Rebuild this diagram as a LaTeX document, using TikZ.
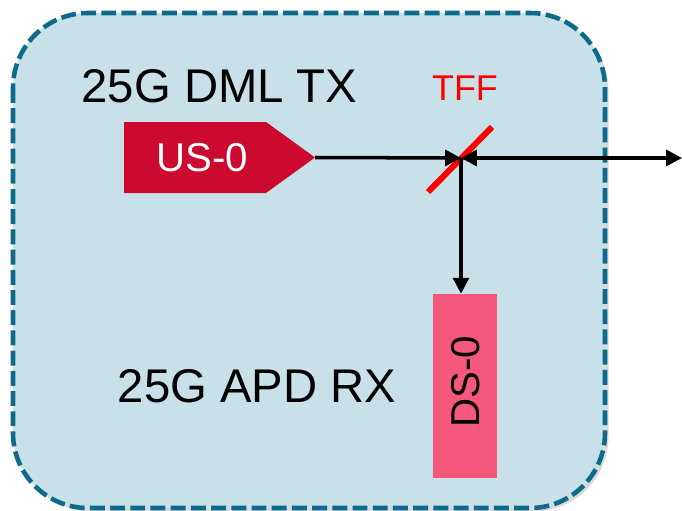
\documentclass[tikz,border=0pt]{standalone}
\usepackage{fontspec}
\setmainfont{Liberation Sans}
\usetikzlibrary{arrows.meta,positioning,calc,shadows}
\definecolor{boxblue}{RGB}{200,224,232}
\definecolor{dashblue}{RGB}{14,106,139}
\definecolor{usred}{RGB}{204,10,48}
\definecolor{dspink}{RGB}{245,88,122}
\definecolor{tffred}{RGB}{255,0,0}

\begin{document}
\begin{tikzpicture}[x=0.02cm, y=-0.02cm,
    module/.style={draw=dashblue, line width=2.6pt, dash pattern=on 8.5pt off 3pt,
        fill=boxblue, rounded corners=1.5cm,
        drop shadow={shadow xshift=2pt, shadow yshift=-2pt, opacity=0.3}},
    title/.style={font=\fontsize{26.9}{32}\selectfont, anchor=base, inner sep=0pt},
    chan/.style={font=\fontsize{22.9}{28}\selectfont, anchor=base, inner sep=0pt},
    arr/.style={-{Triangle[length=9pt, width=9pt]}, line width=2pt, black},
    biarr/.style={{Triangle[length=9pt, width=9pt]}-{Triangle[length=9pt, width=9pt]},
        line width=2pt, black}
]
    \useasboundingbox (0,0) rectangle (682,510);

    % Module outline
    \draw[module] (13,13) rectangle (605,508);

    % Labels
    \node[title] (txlbl) at (219.5,102) {25G DML TX};
    \node[title] (rxlbl) at (257,402) {25G APD RX};

    % Transmitter
    \fill[usred] (124,122) -- (266,122) -- (315,157.5) -- (266,193) -- (124,193) -- cycle;
    \node[chan, text=white] (us) at (202,171) {US-0};
    \coordinate (ustip) at (315,157.5);

    % Receiver
    \node[draw=none, fill=dspink, minimum width=64*0.02cm, minimum height=184*0.02cm,
        inner sep=0pt] (ds) at (465,386) {};
    \node[chan, rotate=90] (dslbl) at (479,381.5) {DS-0};

    % Thin film filter
    \coordinate (tff) at (461,158);
    \draw[tffred, line width=3.4pt] (428,192) -- (492,127);
    \node[font=\fontsize{20.4}{24}\selectfont, text=tffred, anchor=base, inner sep=0pt]
        (tfflbl) at (465,100) {TFF};

    % Fibre port
    \coordinate (port) at (682,158);

    % Light paths
    \draw[arr] (ustip) -- (tff);
    \draw[biarr] (tff) -- (port);
    \draw[arr] (tff) -- (tff |- ds.north);
\end{tikzpicture}
\end{document}
